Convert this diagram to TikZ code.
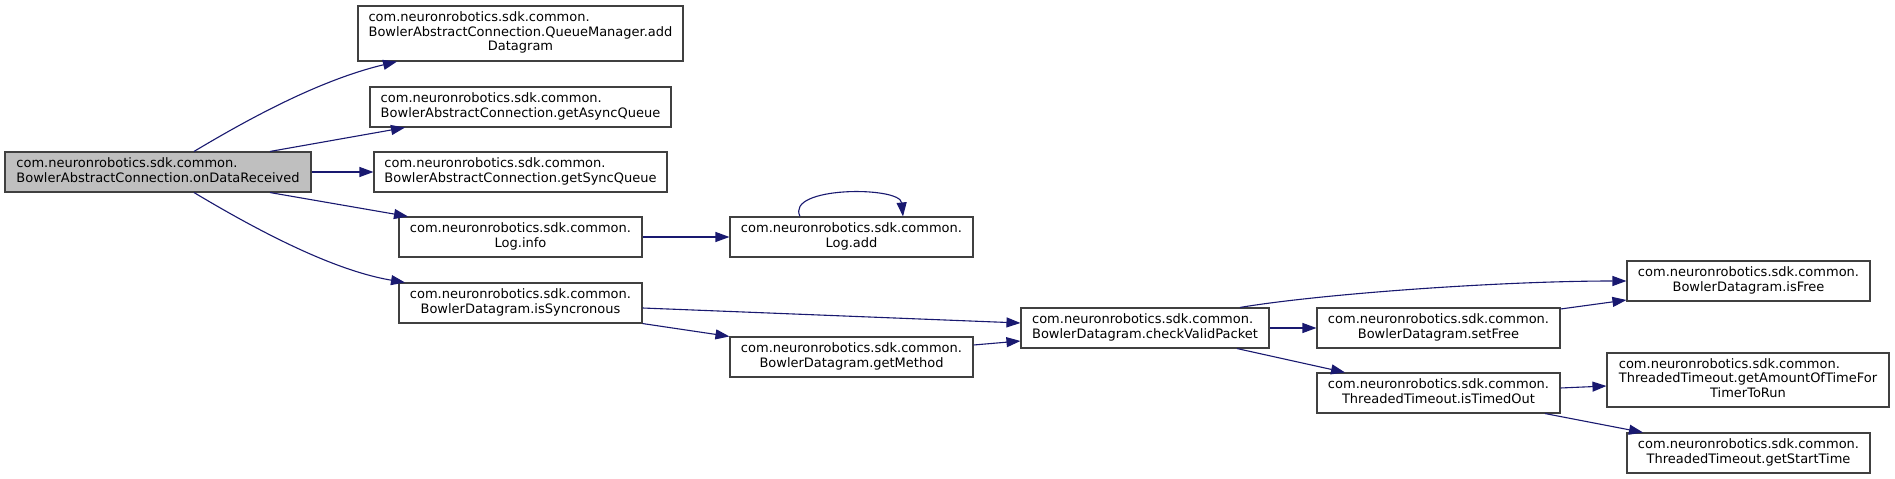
\documentclass[tikz,border=0pt]{standalone}
\usepackage{fontspec}
\setmainfont{DejaVu Sans}
\usetikzlibrary{arrows.meta}
\definecolor{edgeblue}{HTML}{191970}
\definecolor{boxline}{HTML}{404040}
\definecolor{mainfill}{HTML}{BFBFBF}
\newcommand\dlab[2]{\begin{tabular}{@{}l@{}}#1\\\multicolumn{1}{@{}c@{}}{#2}\end{tabular}}
\tikzset{
  fn/.style={draw=boxline, line width=1.1bp, fill=white, inner sep=0pt,
    minimum height=40bp, font=\fontsize{13bp}{14.5bp}\selectfont},
  mainfn/.style={fn, fill=mainfill},
  call/.style={draw=edgeblue, line width=1.1bp,
    -{Triangle[length=14bp,width=10bp]}, edgeblue},
}
\begin{document}
\begin{tikzpicture}[x=1bp,y=-1bp]
\useasboundingbox (0,0) rectangle (1895,479);
\fill[white] (0,0) rectangle (1895,479);

\node[mainfn, minimum width=306bp] (main) at (158,172)
  {\dlab{com.neuronrobotics.sdk.common.}{BowlerAbstractConnection.onDataReceived}};
\node[fn, minimum width=325bp, minimum height=55bp] (add) at (520.5,33.5)
  {\dlab{com.neuronrobotics.sdk.common.\\BowlerAbstractConnection.QueueManager.add}{Datagram}};
\node[fn, minimum width=301bp] (async) at (520.5,107)
  {\dlab{com.neuronrobotics.sdk.common.}{BowlerAbstractConnection.getAsyncQueue}};
\node[fn, minimum width=293bp] (sync) at (520.5,172)
  {\dlab{com.neuronrobotics.sdk.common.}{BowlerAbstractConnection.getSyncQueue}};
\node[fn, minimum width=243bp] (info) at (520.5,237)
  {\dlab{com.neuronrobotics.sdk.common.}{Log.info}};
\node[fn, minimum width=243bp] (issync) at (520.5,303)
  {\dlab{com.neuronrobotics.sdk.common.}{BowlerDatagram.isSyncronous}};
\node[fn, minimum width=243bp] (logadd) at (851.5,237)
  {\dlab{com.neuronrobotics.sdk.common.}{Log.add}};
\node[fn, minimum width=243bp] (getm) at (851.5,357)
  {\dlab{com.neuronrobotics.sdk.common.}{BowlerDatagram.getMethod}};
\node[fn, minimum width=248bp] (check) at (1145,328)
  {\dlab{com.neuronrobotics.sdk.common.}{BowlerDatagram.checkValidPacket}};
\node[fn, minimum width=243bp] (setfree) at (1438.5,328)
  {\dlab{com.neuronrobotics.sdk.common.}{BowlerDatagram.setFree}};
\node[fn, minimum width=243bp] (timed) at (1438.5,393)
  {\dlab{com.neuronrobotics.sdk.common.}{ThreadedTimeout.isTimedOut}};
\node[fn, minimum width=243bp] (isfree) at (1748.5,281)
  {\dlab{com.neuronrobotics.sdk.common.}{BowlerDatagram.isFree}};
\node[fn, minimum width=282bp, minimum height=54bp] (amount) at (1748,380)
  {\dlab{com.neuronrobotics.sdk.common.\\ThreadedTimeout.getAmountOfTimeFor}{TimerToRun}};
\node[fn, minimum width=243bp] (start) at (1748.5,453)
  {\dlab{com.neuronrobotics.sdk.common.}{ThreadedTimeout.getStartTime}};

% edges
\draw[call] ([xshift=36bp]main.north) .. controls (250,118) and (320,80) .. ([xshift=-123.5bp]add.south);
\draw[call] ([xshift=112bp]main.north) -- ([xshift=-115.5bp]async.south);
\draw[call] (main.east) -- (sync.west);
\draw[call] ([xshift=112bp]main.south) -- ([xshift=-112.5bp]info.north);
\draw[call] ([xshift=36bp]main.south) .. controls (250,226) and (330,270) .. ([xshift=-115.5bp]issync.north);
\draw[call] (info.east) -- (logadd.west);
\draw[call] ([xshift=-51.5bp]logadd.north) .. controls (785,186) and (900,186) .. ([xshift=51.5bp]logadd.north);
\draw[call] ([yshift=-5bp]issync.east) -- ([yshift=5bp]check.west);
\draw[call] (issync.south east) -- (getm.north west);
\draw[call] ([yshift=12bp]getm.east) -- ([yshift=-13bp]check.west);
\draw[call] ([xshift=95bp]check.north) .. controls (1320,294) and (1500,281) .. (isfree.west);
\draw[call] (check.east) -- (setfree.west);
\draw[call] ([xshift=92bp]check.south) -- ([xshift=-93.5bp]timed.north);
\draw[call] ([yshift=19bp]setfree.east) -- ([yshift=-19bp]isfree.west);
\draw[call] ([yshift=5bp]timed.east) -- ([yshift=-6bp]amount.west);
\draw[call] ([xshift=106.5bp]timed.south) -- ([xshift=-105.5bp]start.north);
\end{tikzpicture}
\end{document}
